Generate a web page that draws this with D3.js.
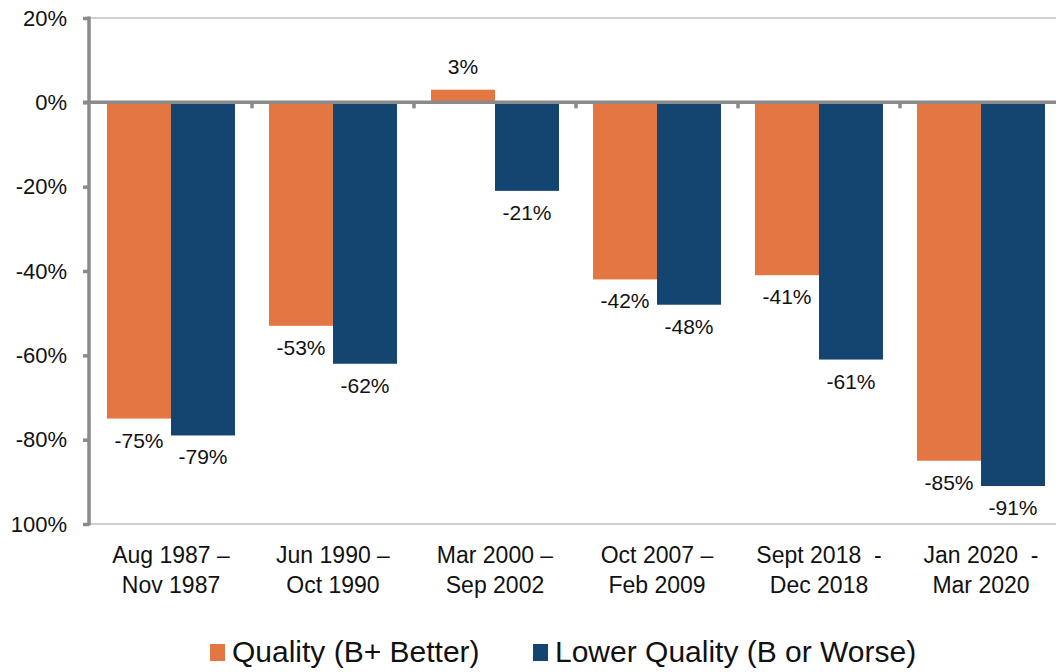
<!DOCTYPE html>
<html>
<head>
<meta charset="utf-8">
<script src="https://d3js.org/d3.v7.min.js"></script>
<style>
  body { margin: 0; background: #fff; }
  svg { display: block; font-family: Arial, "Liberation Sans", sans-serif; }
  text { white-space: pre; }
</style>
</head>
<body>
<div id="chart"></div>
<script>
// data
const periods = [
  ["Aug 1987 \u2013", "Nov 1987"],
  ["Jun 1990 \u2013", "Oct 1990"],
  ["Mar 2000 \u2013", "Sep 2002"],
  ["Oct 2007 \u2013", "Feb 2009"],
  ["Sept 2018  -", "Dec 2018"],
  ["Jan 2020  -", "Mar 2020"]
];
const seriesNames = ["Quality (B+ Better)", "Lower Quality (B or Worse)"];
const quality = [-75, -53, 3, -42, -41, -85];
const lowerQuality = [-79, -62, -21, -48, -61, -91];
const yTicks = [20, 0, -20, -40, -60, -80, -100];
const colors = ["#E37743", "#134570"];

const W = 1056, H = 672;
const svg = d3.select("#chart").append("svg")
  .attr("width", W).attr("height", H);

const x = d3.scaleBand().domain(d3.range(periods.length)).range([90, 1062]);
const xs = d3.scaleBand().domain([0, 1]).range([17, x.bandwidth() - 17]);
const y = d3.scaleLinear().domain([-100, 20]).range([524, 18]);

// frame lines top/bottom
svg.append("line").attr("x1", 90).attr("x2", W).attr("y1", y(20)).attr("y2", y(20))
  .attr("stroke", "#c0c0c0").attr("stroke-width", 1.5);
svg.append("line").attr("x1", 90).attr("x2", W).attr("y1", y(-100)).attr("y2", y(-100))
  .attr("stroke", "#c0c0c0").attr("stroke-width", 1.5);

// bars
const rows = periods.map((p, i) => [quality[i], lowerQuality[i]]);
const g = svg.selectAll(".grp").data(rows).join("g")
  .attr("transform", (d, i) => `translate(${x(i)},0)`);

g.selectAll("rect").data(d => d).join("rect")
  .attr("x", (d, j) => xs(j))
  .attr("width", xs.bandwidth())
  .attr("y", d => y(Math.max(0, d)))
  .attr("height", d => Math.abs(y(d) - y(0)))
  .attr("fill", (d, j) => colors[j]);

g.selectAll("text.val").data(d => d).join("text")
  .attr("class", "val")
  .attr("x", (d, j) => xs(j) + xs.bandwidth() / 2)
  .attr("y", d => d < 0 ? y(d) + 29 : y(d) - 16)
  .attr("text-anchor", "middle")
  .attr("font-size", 21)
  .attr("fill", "#111")
  .text(d => d + "%");

// zero line with category ticks
svg.append("line").attr("x1", 83).attr("x2", W).attr("y1", y(0)).attr("y2", y(0))
  .attr("stroke", "#8a8a8a").attr("stroke-width", 3.5);
svg.selectAll(".ctick").data(d3.range(1, periods.length)).join("line")
  .attr("class", "ctick")
  .attr("x1", i => x(i)).attr("x2", i => x(i))
  .attr("y1", y(0)).attr("y2", y(0) + 6)
  .attr("stroke", "#8a8a8a").attr("stroke-width", 3.5);

// y axis
const yAxis = svg.append("g").attr("transform", "translate(89,0)")
  .call(d3.axisLeft(y).tickValues(yTicks).tickSize(6).tickPadding(16)
    .tickFormat(d => d === -100 ? "100%" : d + "%"));
yAxis.select(".domain").remove();
yAxis.append("line").attr("x1", 0).attr("x2", 0).attr("y1", y(20) - 1.5).attr("y2", y(-100) + 1.5)
  .attr("stroke", "#8a8a8a").attr("stroke-width", 3.5);
yAxis.selectAll(".tick line").attr("stroke", "#8a8a8a").attr("stroke-width", 3.5);
yAxis.selectAll(".tick text").attr("font-size", 22).attr("fill", "#111")
  .attr("font-family", "Arial, 'Liberation Sans', sans-serif");

// x labels
const xl = svg.selectAll(".xl").data(periods).join("text")
  .attr("class", "xl")
  .attr("x", (d, i) => x(i) + x.bandwidth() / 2)
  .attr("y", 563)
  .attr("text-anchor", "middle")
  .attr("font-size", 23)
  .attr("fill", "#111");
xl.selectAll("tspan").data(d => d).join("tspan")
  .attr("x", function () { return this.parentNode.getAttribute("x"); })
  .attr("dy", (d, k) => k === 0 ? 0 : 30)
  .text(d => d);

// legend
const legendX = [210, 533];
const lg = svg.selectAll(".lg").data(seriesNames).join("g")
  .attr("transform", (d, i) => `translate(${legendX[i]},644)`);
lg.append("rect").attr("width", 15).attr("height", 17).attr("fill", (d, i) => colors[i]);
lg.append("text").attr("x", 22).attr("y", 18).attr("font-size", 30).attr("fill", "#111")
  .text(d => d);
</script>
</body>
</html>
